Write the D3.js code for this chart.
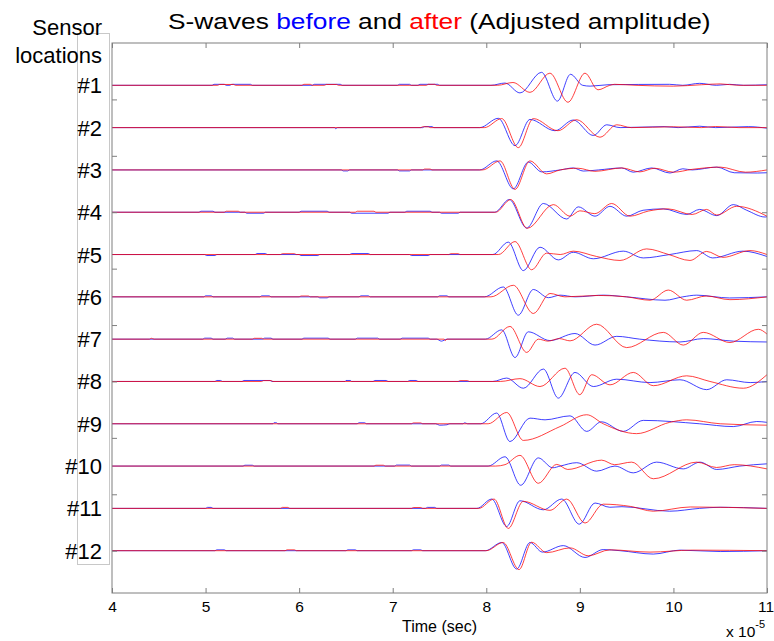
<!DOCTYPE html>
<html>
<head>
<meta charset="utf-8">
<script src="https://cdn.jsdelivr.net/npm/d3@7"></script>
<style>
  body { margin: 0; background: #fff; }
  text { font-family: Arial, "Liberation Sans", Helvetica, sans-serif; }
</style>
</head>
<body>
<svg id="chart" width="774" height="641"></svg>
<script>
// ---- data -------------------------------------------------------------
const sensors = ["#1", "#2", "#3", "#4", "#5", "#6", "#7", "#8", "#9", "#10", "#11", "#12"];
const timeTicks = [4, 5, 6, 7, 8, 9, 10, 11];          // x 10^-5 s
const offsetTicks = [2, 4, 6, 8, 10, 12, 14, 16, 18];  // unlabelled trace-offset ticks
const traceSpacing = 1.5;                              // vertical offset between sensors

// Each record: [time (x 10^-5 s), amplitude relative to the trace baseline]
const before01 = [[4,0],[5.07,0],[5.09,0.035],[5.2,0.035],[5.22,0],[5.26,0],[5.28,0.035],[5.48,0.035],[5.5,0],[6.14,0],[6.16,0.035],[6.44,0.035],[6.46,0],[7.05,0],[7.07,0.035],[7.18,0.035],[7.2,0],[7.27,0],[7.29,0.035],[7.48,0.035],[7.5,0],
  [8.05,0],[8.2,0.08],[8.36,-0.27],[8.59,0.46],[8.76,-0.56],[8.9,0.39],[9.03,0],[9.11,-0.03],[9.3,0.02],[9.96,0.035],[10.1,0],[10.28,0.07],[10.46,0],[10.6,0.035],[10.75,0],[11,0.02]];
const after01 = [[4,0],[5.13,0],[5.15,0.03],[5.3,0.03],[5.32,0],[6.03,0],[6.05,0.035],[6.12,0.035],[6.14,0],[6.27,0],[6.29,0.03],[6.4,0.03],[6.42,0],[7.36,0],[7.38,0.035],[7.45,0.035],[7.47,0],
  [8.12,0],[8.285,0.1],[8.467,-0.25],[8.68,0.43],[8.873,-0.6],[9.055,0.43],[9.194,-0.16],[9.32,0],[9.37,0.035],[9.6,0],[10.0,-0.03],[10.3,0.02],[10.5,0.05],[10.7,0],[11,0]];

const before02 = [[4,0],[6.38,0],[6.39,-0.04],[6.41,0],[7.32,0],[7.34,0.035],[7.42,0.035],[7.44,0],
  [7.93,0],[8.128,0.33],[8.307,-0.64],[8.467,0.29],[8.734,-0.11],[8.93,0.27],[9.144,-0.28],[9.287,0.1],[9.43,0],[9.9,0.035],[10.05,0],[10.28,0.05],[10.45,0],[10.8,0.035],[11,-0.02]];
const after02 = [[4,0],[7.3,0],[7.32,0.03],[7.38,0.03],[7.4,0],
  [7.98,0],[8.165,0.32],[8.342,-0.71],[8.503,0.32],[8.766,-0.11],[8.966,0.28],[9.215,-0.34],[9.394,0.1],[9.55,0],[10.0,0.03],[10.3,0],[10.45,0.04],[10.7,0],[11,0]];

const before03 = [[4,0],[6.45,0],[6.47,-0.035],[6.52,-0.035],[6.54,0],[7.05,0],[7.07,-0.035],[7.18,-0.035],[7.2,0],
  [7.93,0],[8.111,0.32],[8.289,-0.67],[8.449,0.28],[8.592,-0.07],[8.79,0],[8.93,0.07],[9.037,-0.04],[9.2,0],[9.447,0.07],[9.571,-0.08],[9.768,0.07],[9.963,-0.11],[10.1,0.04],[10.2,0],[10.463,0.1],[10.65,-0.1],[10.9,-0.11],[11,-0.1]];
const after03 = [[4,0],[7.32,0],[7.34,0.03],[7.4,0.03],[7.42,0],
  [7.96,0],[8.147,0.32],[8.307,-0.69],[8.467,0.32],[8.645,-0.14],[8.79,0],[8.98,0.06],[9.16,-0.05],[9.45,0.07],[9.64,-0.07],[9.8,0.06],[10.0,-0.08],[10.2,0.02],[10.5,0.1],[10.77,-0.08],[11,0]];

const before04 = [[4,0],[4.93,0],[4.95,0.035],[5.08,0.035],[5.1,0],[5.42,0],[5.44,-0.035],[5.62,-0.035],[5.64,0],[6.0,0],[6.02,0.035],[6.3,0.035],[6.32,0],[6.54,0],[6.56,-0.035],[6.95,-0.035],[6.97,0],[7.13,0],[7.15,0.035],[7.4,0.035],[7.42,0],[7.5,0],[7.52,-0.035],[7.7,-0.035],[7.72,0],
  [8.09,0],[8.246,0.45],[8.432,-0.56],[8.61,0.31],[8.859,-0.24],[8.983,0.19],[9.162,-0.14],[9.322,0.21],[9.501,-0.14],[9.675,0.07],[9.892,0.12],[10.142,-0.08],[10.28,0.1],[10.463,-0.12],[10.64,0.27],[10.783,0.07],[10.98,-0.17],[11,-0.16]];
const after04 = [[4,0],[5.2,0],[5.22,0.035],[5.35,0.035],[5.37,0],[6.6,0],[6.62,0.035],[6.8,0.035],[6.82,0],
  [8.1,0],[8.261,0.45],[8.438,-0.57],[8.716,0.27],[8.895,-0.14],[9.0,0.05],[9.16,-0.05],[9.34,0.31],[9.536,-0.14],[9.73,0.04],[9.94,0.12],[10.2,-0.08],[10.355,0.1],[10.463,-0.1],[10.676,0.21],[11,-0.14]];

const before05 = [[4,0],[4.99,0],[5.01,-0.035],[5.1,-0.035],[5.12,0],[5.53,0],[5.55,0.035],[5.64,0.035],[5.66,0],[6.0,0],[6.02,-0.035],[6.2,-0.035],[6.22,0],[6.54,0],[6.56,0.035],[6.74,0.035],[6.76,0],[7.18,0],[7.2,-0.035],[7.38,-0.035],[7.4,0],
  [8.07,0],[8.235,0.44],[8.396,-0.57],[8.574,0.26],[8.77,-0.19],[8.93,0.08],[9.144,-0.15],[9.464,0.12],[9.678,-0.12],[9.96,0],[10.249,0.14],[10.42,-0.12],[10.743,0.12],[11,-0.07]];
const after05 = [[4,0],[5.8,0],[5.82,0.03],[5.95,0.03],[5.97,0],[7.6,0],[7.62,0.03],[7.7,0.03],[7.72,0],
  [8.13,0],[8.307,0.46],[8.485,-0.54],[8.645,0.05],[8.79,0],[8.93,0.12],[9.18,-0.07],[9.429,-0.21],[9.714,0.2],[9.95,0],[10.177,-0.21],[10.355,0.11],[10.53,-0.1],[10.818,0.14],[11,0]];

const before06 = [[4,0],[4.98,0],[5.0,0.035],[5.06,0.035],[5.08,0],[5.58,0],[5.6,0.035],[5.68,0.035],[5.7,0],[6.2,0],[6.22,-0.035],[6.3,-0.035],[6.32,0],[6.64,0],[6.66,0.035],[6.74,0.035],[6.76,0],[7.48,0],[7.5,0.035],[7.58,0.035],[7.6,0],
  [7.98,0],[8.182,0.35],[8.342,-0.65],[8.503,0.26],[8.663,-0.03],[8.788,0.06],[8.95,0],[9.25,0.06],[9.5,0],[9.91,-0.12],[10.1,0],[10.249,0.06],[10.6,-0.04],[11,0]];
const after06 = [[4,0],[6.0,0],[6.02,0.03],[6.1,0.03],[6.12,0],
  [8.05,0],[8.289,0.41],[8.503,-0.59],[8.681,0.12],[8.84,0],[9.2,0.05],[9.5,0],[9.75,-0.12],[9.945,0.24],[10.142,-0.12],[10.35,0.03],[10.604,-0.1],[11,0]];

const before07 = [[4,0],[4.97,0],[4.99,0.035],[5.06,0.035],[5.08,0],[5.21,0],[5.23,0.035],[5.29,0.035],[5.31,0],[5.61,0],[5.63,0.035],[5.7,0.035],[5.72,0],[6.03,0],[6.05,0.035],[6.31,0.035],[6.33,0],[6.6,0],[6.62,0.035],[6.84,0.035],[6.86,0],[7.08,0],[7.1,0.035],[7.38,0.035],[7.4,0],[7.47,0],[7.52,-0.07],[7.58,0],
  [7.99,0],[8.165,0.33],[8.307,-0.65],[8.449,0.26],[8.68,-0.05],[8.948,0.2],[9.162,-0.21],[9.394,0.1],[9.64,0],[10.07,-0.1],[10.32,0.02],[10.64,-0.07],[11,-0.1]];
const after07 = [[4,0],[4.4,0],[4.42,0.03],[4.45,0],[5.5,0],[5.52,0.03],[5.6,0.03],[5.62,0],[7.55,0],[7.56,-0.05],[7.58,0],
  [8.06,0],[8.253,0.45],[8.432,-0.47],[8.556,0],[8.66,-0.07],[8.78,0.02],[8.895,-0.06],[9.18,0.53],[9.5,-0.3],[9.892,0.24],[10.105,-0.21],[10.319,0.24],[10.604,-0.12],[10.907,0.35],[11,0.18]];

const before08 = [[4,0],[5.1,0],[5.12,0.035],[5.16,0.035],[5.18,0],[5.39,0],[5.41,0.035],[5.69,0.035],[5.71,0],[6.49,0],[6.5,0.035],[6.55,0.035],[6.56,0],[6.79,0],[6.81,0.035],[6.93,0.035],[6.95,0],[7.16,0],[7.18,0.035],[7.25,0.035],[7.27,0],
  [8.07,0],[8.218,0.12],[8.396,-0.24],[8.61,0.44],[8.77,-0.59],[8.948,0.32],[9.144,-0.18],[9.394,0.08],[9.75,-0.04],[10.07,0.06],[10.355,-0.29],[10.569,0.06],[10.82,-0.04],[11,0]];
const after08 = [[4,0],[5.6,0],[5.62,0.03],[5.7,0.03],[5.72,0],[7.7,0],[7.72,0.03],[7.8,0.03],[7.82,0],
  [8.15,0],[8.36,0.1],[8.574,-0.18],[8.841,0.47],[9.0,-0.47],[9.127,0.24],[9.322,-0.12],[9.571,0.32],[9.785,-0.15],[10.142,0.2],[10.39,0],[10.747,-0.24],[11,0.24]];

const before09 = [[4,0],[5.72,0],[5.73,0.035],[5.76,0.035],[5.77,0],[6.62,0],[6.64,0.035],[6.7,0.035],[6.72,0],[7.46,0],[7.5,-0.05],[7.58,-0.035],[7.61,0],[7.75,0],[7.77,0.035],[7.8,0],
  [7.94,0],[8.111,0.38],[8.253,-0.63],[8.467,0.2],[8.628,0.14],[8.895,0.28],[9.073,-0.27],[9.23,0.07],[9.464,-0.27],[9.678,0.12],[10.28,0],[10.64,-0.1],[10.89,0.08],[11,0.05]];
const after09 = [[4,0],[7.2,0],[7.22,0.03],[7.3,0.03],[7.32,0],
  [8.02,0],[8.218,0.4],[8.396,-0.59],[8.788,-0.1],[9.073,0.32],[9.25,0],[9.607,-0.35],[9.96,0.05],[10.142,0.14],[10.5,0],[11,-0.05]];

const before10 = [[4,0],[5.4,0],[5.42,0.03],[5.5,0.03],[5.52,0],[7.02,0],[7.04,0.035],[7.18,0.035],[7.2,0],[7.5,0],[7.52,0.035],[7.6,0.035],[7.62,0],
  [8.02,0],[8.2,0.33],[8.368,-0.68],[8.556,0.29],[8.71,-0.06],[8.79,0],[8.966,0.12],[9.18,-0.18],[9.375,0],[9.571,-0.24],[9.82,0.14],[10.105,-0.1],[10.284,0.14],[10.463,-0.12],[10.71,0],[11,0.08]];
const after10 = [[4,0],[6.8,0],[6.82,0.03],[6.9,0.03],[6.92,0],
  [8.1,0],[8.2,0.05],[8.36,0.38],[8.556,-0.61],[8.753,0.06],[8.87,-0.12],[9.233,0.21],[9.37,0.05],[9.554,0.14],[9.785,-0.45],[10.249,0.14],[10.46,-0.05],[10.65,0.05],[11,-0.1]];

const before11 = [[4,0],[5.0,0],[5.02,0.035],[5.06,0.035],[5.08,0],[7.35,0],[7.37,0.035],[7.45,0.035],[7.47,0],
  [7.9,0],[8.058,0.33],[8.218,-0.64],[8.36,0.27],[8.61,-0.05],[8.806,0.33],[8.994,-0.56],[9.162,0.19],[9.32,0.04],[9.45,0.06],[9.96,-0.1],[10.28,0],[10.5,0.04],[11,0]];
const after11 = [[4,0],[5.8,0],[5.82,0.035],[5.88,0.035],[5.9,0],[7.2,0],[7.22,0.03],[7.3,0.03],[7.32,0],
  [7.92,0],[8.083,0.33],[8.235,-0.71],[8.396,0.25],[8.68,-0.07],[8.86,0.33],[9.055,-0.52],[9.25,0.15],[9.54,0.07],[9.785,-0.1],[10.18,0.05],[11,0]];

const before12 = [[4,0],[5.1,0],[5.12,0.03],[5.2,0.03],[5.22,0],[6.5,0],[6.52,0.03],[6.6,0.03],[6.62,0],[7.2,0],[7.22,0.03],[7.3,0.03],[7.32,0],
  [7.99,0],[8.165,0.29],[8.325,-0.65],[8.467,0.29],[8.6,-0.05],[8.823,0.18],[9.055,-0.24],[9.25,0.04],[9.43,0],[9.785,-0.12],[10.07,0.02],[10.5,-0.03],[11,0]];
const after12 = [[4,0],[5.85,0],[5.87,0.03],[5.95,0.03],[5.97,0],
  [8.0,0],[8.18,0.29],[8.35,-0.67],[8.485,0.3],[8.645,-0.07],[8.895,0.1],[9.09,-0.18],[9.32,0.03],[9.75,-0.05],[10.2,0.02],[11,0]];

const beforeSeries = [before01, before02, before03, before04, before05, before06,
                      before07, before08, before09, before10, before11, before12];
const afterSeries  = [after01, after02, after03, after04, after05, after06,
                      after07, after08, after09, after10, after11, after12];

// ---- layout -----------------------------------------------------------
const svg = d3.select("#chart");
const plot = { left: 112, right: 767, top: 43, bottom: 593 };
const axisColor = "#7f7f7f";

const x = d3.scaleLinear().domain([4, 11]).range([plot.left, plot.right]);
// offsets grow downward: sensor #1 sits at the top
const y = d3.scaleLinear().domain([0, 19.5]).range([plot.top, plot.bottom]);

// frame behind the sensor labels
svg.append("rect")
  .attr("x", 77.5).attr("y", 33.5).attr("width", 32).attr("height", 531)
  .attr("fill", "#fff").attr("stroke", "#c8c8c8").attr("stroke-width", 1);

// ---- traces -----------------------------------------------------------
svg.append("clipPath").attr("id", "plot-clip")
  .append("rect")
  .attr("x", plot.left).attr("y", plot.top)
  .attr("width", plot.right - plot.left).attr("height", plot.bottom - plot.top);

const traces = svg.append("g").attr("clip-path", "url(#plot-clip)");

function traceLine(offset) {
  return d3.line()
    .x(d => x(d[0]))
    .y(d => y(offset - d[1]))
    .curve(d3.curveMonotoneX);
}

beforeSeries.forEach((series, i) => {
  traces.append("path")
    .attr("d", traceLine((i + 1) * traceSpacing)(series))
    .attr("fill", "none").attr("stroke", "#0000ff").attr("stroke-width", 1)
    .attr("stroke-opacity", 0.75);
});
afterSeries.forEach((series, i) => {
  traces.append("path")
    .attr("d", traceLine((i + 1) * traceSpacing)(series))
    .attr("fill", "none").attr("stroke", "#ff0000").attr("stroke-width", 1)
    .attr("stroke-opacity", 0.75);
});

// ---- axes -------------------------------------------------------------
svg.append("rect")
  .attr("x", plot.left).attr("y", plot.top)
  .attr("width", plot.right - plot.left).attr("height", plot.bottom - plot.top)
  .attr("fill", "none").attr("stroke", axisColor).attr("stroke-width", 1);

function styleAxis(g) {
  g.select(".domain").remove();
  g.selectAll(".tick line").attr("stroke", axisColor);
  g.selectAll(".tick text").attr("fill", "#000").style("font-size", "15.5px")
    .style("font-family", "Arial, 'Liberation Sans', sans-serif");
}

const bottomAxis = svg.append("g").attr("transform", `translate(0,${plot.bottom})`)
  .call(d3.axisBottom(x).tickValues(timeTicks).tickFormat(d3.format("d"))
    .tickSizeInner(-5).tickSizeOuter(0).tickPadding(8))
  .call(styleAxis);
// the last label sits against the window edge: keep it inside
bottomAxis.selectAll(".tick text")
  .filter(d => d === timeTicks[timeTicks.length - 1])
  .attr("text-anchor", "end").attr("x", 6.5);

svg.append("g").attr("transform", `translate(0,${plot.top})`)
  .call(d3.axisTop(x).tickValues(timeTicks).tickFormat("")
    .tickSizeInner(-5).tickSizeOuter(0))
  .call(styleAxis);
svg.append("g").attr("transform", `translate(${plot.left},0)`)
  .call(d3.axisLeft(y).tickValues(offsetTicks).tickFormat("")
    .tickSizeInner(-5).tickSizeOuter(0))
  .call(styleAxis);
svg.append("g").attr("transform", `translate(${plot.right},0)`)
  .call(d3.axisRight(y).tickValues(offsetTicks).tickFormat("")
    .tickSizeInner(-5).tickSizeOuter(0))
  .call(styleAxis);

// axis label and exponent
svg.append("text")
  .attr("x", (plot.left + plot.right) / 2).attr("y", 632)
  .attr("text-anchor", "middle").style("font-size", "16px")
  .text("Time (sec)");

const expo = svg.append("text").attr("x", 726).attr("y", 637).style("font-size", "15.5px");
expo.append("tspan").text("x 10");
expo.append("tspan").attr("dy", -9).style("font-size", "11px").text("-5");

// ---- sensor labels ----------------------------------------------------
svg.append("text").attr("x", 102).attr("y", 35).attr("text-anchor", "end")
  .style("font-size", "22px").text("Sensor");
svg.append("text").attr("x", 102).attr("y", 63).attr("text-anchor", "end")
  .style("font-size", "22px").text("locations");

svg.append("g").selectAll("text")
  .data(sensors)
  .join("text")
  .attr("x", 102)
  .attr("y", (d, i) => y((i + 1) * traceSpacing) + 8)
  .attr("text-anchor", "end")
  .style("font-size", "22px")
  .text(d => d);

// ---- title ------------------------------------------------------------
const titleG = svg.append("g").attr("transform", "translate(168,29)");
const title = titleG.append("text").attr("x", 0).attr("y", 0).style("font-size", "22.5px");
title.append("tspan").attr("fill", "#000").text("S-waves ");
title.append("tspan").attr("fill", "#0000ff").text("before");
title.append("tspan").attr("fill", "#000").text(" and ");
title.append("tspan").attr("fill", "#ff0000").text("after");
title.append("tspan").attr("fill", "#000").text(" (Adjusted amplitude)");
const tw = title.node().getComputedTextLength();
title.attr("transform", `scale(${543 / tw},1)`);
</script>
</body>
</html>
